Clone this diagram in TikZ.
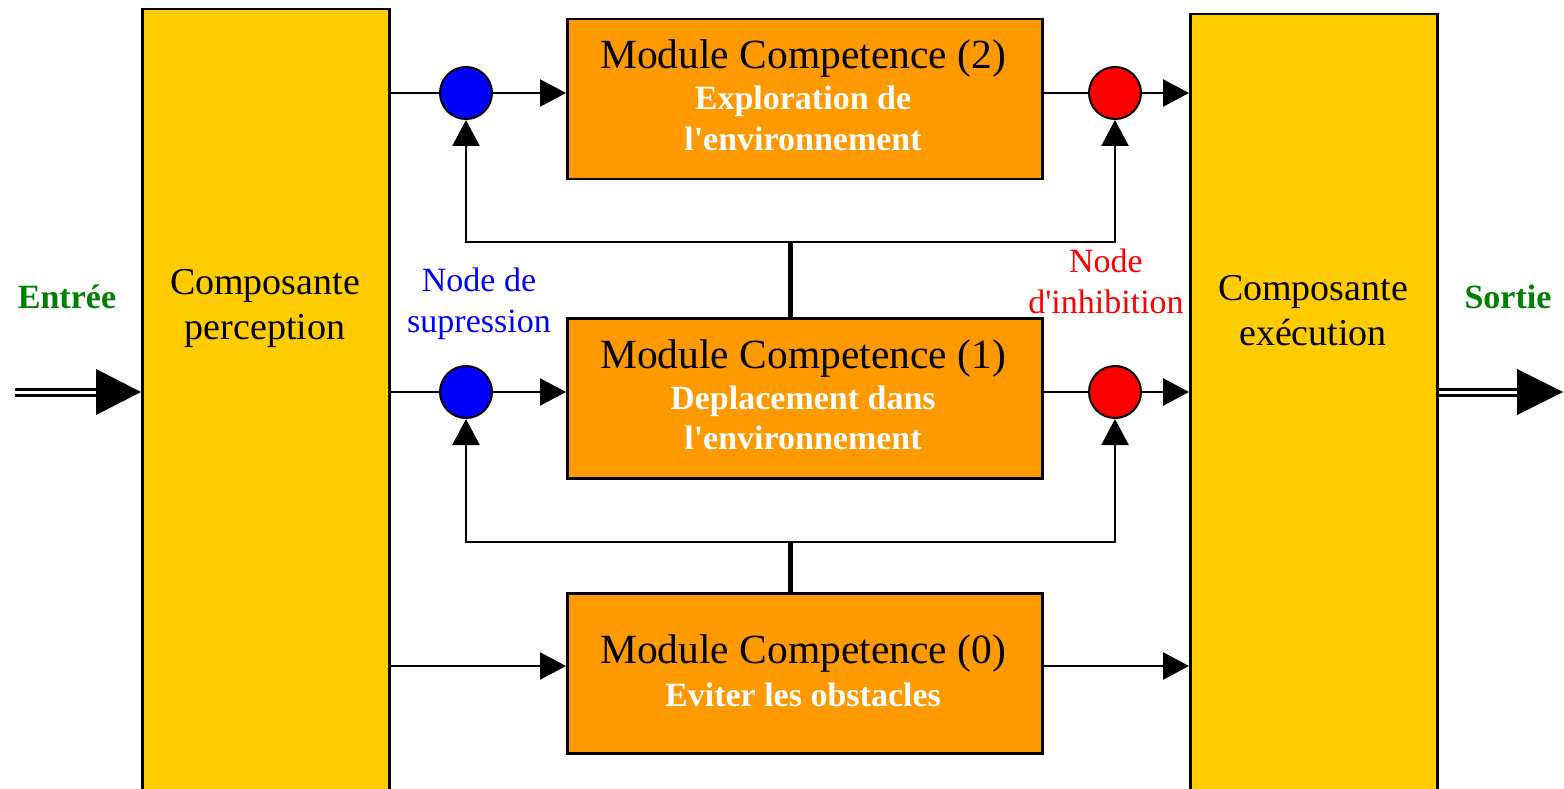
\documentclass[tikz,border=0pt]{standalone}
\usepackage{fontspec}
\setmainfont{Liberation Serif}
\usetikzlibrary{arrows.meta}
\definecolor{yel}{HTML}{FFCC00}
\definecolor{org}{HTML}{FF9900}
\definecolor{grn}{HTML}{008000}
\newcommand\fsz[1]{\fontsize{#1}{#1}\selectfont}
\begin{document}
\begin{tikzpicture}[x=1pt,y=-1pt,
 ybox/.style={draw=black, line width=2.5pt, fill=yel, inner sep=0pt, anchor=north west, minimum width=247pt, minimum height=820pt},
 mbox/.style={draw=black, line width=2.5pt, fill=org, inner sep=0pt, minimum width=475pt, minimum height=160pt, anchor=north west},
 junc/.style={circle, draw=black, line width=2pt, minimum size=52pt, inner sep=0pt},
 conn/.style={line width=2.5pt},
 arr/.style={conn, -{Triangle[length=26pt,width=27pt]}},
 bus/.style={line width=5pt},
 dbl/.style={double, double distance=3pt, line width=3pt},
 title/.style={anchor=base, font=\fsz{41.5}},
 sub/.style={anchor=base, font=\fsz{34}\bfseries, text=white},
 lab/.style={anchor=base, font=\fsz{34}},
 comp/.style={anchor=base, font=\fsz{38}},
 io/.style={anchor=base, font=\fsz{34}\bfseries, text=grn},
 ]
\useasboundingbox (0,0) rectangle (1564,789);
\clip (0,0) rectangle (1564,789);
% big boxes
\node[ybox] (percep) at (141,8) {};
\node[ybox] (exec) at (1189,13) {};
\node[mbox] (m2) at (566,18) {};
\node[mbox] (m1) at (566,317) {};
\node[mbox] (m0) at (566,592) {};
% texts
\node[comp] (pc1) at (265,294) {Composante};
\node[comp] (pc2) at (265,339) {perception};
\node[comp] (ex1) at (1313,300) {Composante};
\node[comp] (ex2) at (1313,345) {exécution};
\node[title] (t2) at (803,69) {Module Competence (2)};
\node[sub] (s2a) at (803,110) {Exploration de};
\node[sub] (s2b) at (803,150) {l\textquotesingle environnement};
\node[title] (t1) at (803,368) {Module Competence (1)};
\node[sub] (s1a) at (803,409) {Deplacement dans};
\node[sub] (s1b) at (803,449) {l\textquotesingle environnement};
\node[title] (t0) at (803,663) {Module Competence (0)};
\node[sub] (s0a) at (803,706) {Eviter les obstacles};
\node[lab, text=blue] (ns1) at (479,291) {Node de};
\node[lab, text=blue] (ns2) at (479,332) {supression};
\node[lab, text=red] (ni1) at (1106,272) {Node};
\node[lab, text=red] (ni2) at (1106,313) {d\textquotesingle inhibition};
\node[io] (ent) at (67,308) {Entrée};
\node[io] (sor) at (1508,308) {Sortie};
% junction circles
\node[junc, fill=blue] (c2) at (466,93) {};
\node[junc, fill=blue] (c1) at (466,392) {};
\node[junc, fill=red] (r2) at (1115,93) {};
\node[junc, fill=red] (r1) at (1115,392) {};
% coordinates
\coordinate (j2) at (790,242);
\coordinate (j1) at (790,542);
\coordinate (y0) at (0,666);
\coordinate (ein) at (15,392);
\coordinate (sout) at (1563,392);
% connectors
\draw[bus] (m1.north-|j2) -- (j2);
\draw[bus] (m0.north-|j1) -- (j1);
\draw[arr] (j2) -| (c2);
\draw[arr] (j2) -| (r2);
\draw[arr] (j1) -| (c1);
\draw[arr] (j1) -| (r1);
\draw[conn] (percep.east|-c2) -- (c2);
\draw[arr] (c2) -- (m2.west|-c2);
\draw[conn] (m2.east|-r2) -- (r2);
\draw[arr] (r2) -- (exec.west|-r2);
\draw[conn] (percep.east|-c1) -- (c1);
\draw[arr] (c1) -- (m1.west|-c1);
\draw[conn] (m1.east|-r1) -- (r1);
\draw[arr] (r1) -- (exec.west|-r1);
\draw[arr] (percep.east|-y0) -- (m0.west|-y0);
\draw[arr] (m0.east|-y0) -- (exec.west|-y0);
% double arrows
\draw[dbl, shorten >=40pt] (ein) -- (percep.west|-ein);
\fill (percep.west|-ein) -- ++(-45,-23) -- ++(0,46) -- cycle;
\draw[dbl, shorten >=40pt] (exec.east|-sout) -- (sout);
\fill (sout) -- ++(-46,-23) -- ++(0,46) -- cycle;
\end{tikzpicture}
\end{document}
